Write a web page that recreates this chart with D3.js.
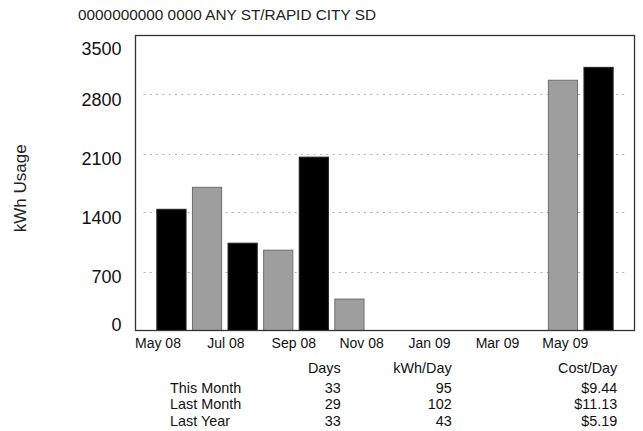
<!DOCTYPE html>
<html>
<head>
<meta charset="utf-8">
<script src="https://cdn.jsdelivr.net/npm/d3@7"></script>
<style>
  html, body { margin: 0; padding: 0; background: #fff; }
  svg { display: block; font-family: "Liberation Sans", Arial, sans-serif; }
</style>
</head>
<body>
<svg id="chart" width="643" height="431"></svg>
<script>
const title = "0000000000 0000 ANY ST/RAPID CITY SD";
const yAxisTitle = "kWh Usage";
const months = ["May 08","Jun 08","Jul 08","Aug 08","Sep 08","Oct 08","Nov 08","Dec 08","Jan 09","Feb 09","Mar 09","Apr 09","May 09"];
const usage = [1438, 1699, 1036, 953, 2057, 373, null, null, null, null, null, 2969, 3122];
const xTickLabels = ["May 08","Jul 08","Sep 08","Nov 08","Jan 09","Mar 09","May 09"];
const xTickIndex = [0, 2, 4, 6, 8, 10, 12];
const yTicks = [0, 700, 1400, 2100, 2800, 3500];
const tableHeaders = ["Days", "kWh/Day", "Cost/Day"];
const tableRows = ["This Month", "Last Month", "Last Year"];
const daysCol = ["33", "29", "33"];
const kwhCol = ["95", "102", "43"];
const costCol = ["$9.44", "$11.13", "$5.19"];

const svg = d3.select("#chart");
const L = 135.5, R = 634.5, T = 35.5, B = 330.5;

const y = d3.scaleLinear().domain([0, 3500]).range([B, T]);
const x = d3.scaleBand().domain(months).range([L, R]).paddingInner(0.18).paddingOuter(0.6);
const xLab = d3.scaleLinear().domain([0, 12]).range([158, 565.3]);

// title
svg.append("text").attr("x", 78).attr("y", 19.5).attr("font-size", 15).attr("fill", "#222")
  .attr("textLength", 298).attr("lengthAdjust", "spacingAndGlyphs").text(title);

// gridlines
svg.append("g").selectAll("line").data(yTicks.filter(v => v > 0 && v < 3500)).join("line")
  .attr("x1", L + 8).attr("x2", R - 6)
  .attr("y1", d => Math.round(y(d)) + 0.5).attr("y2", d => Math.round(y(d)) + 0.5)
  .attr("stroke", "#b0b0b0").attr("stroke-width", 1).attr("stroke-dasharray", "2,4.3");

// bars
svg.append("g").selectAll("rect").data(months.map((m, i) => ({m, v: usage[i], i})).filter(d => d.v != null)).join("rect")
  .attr("x", d => x(d.m)).attr("width", x.bandwidth())
  .attr("y", d => y(d.v)).attr("height", d => y(0) - y(d.v))
  .attr("fill", d => d.i % 2 === 0 ? "#000" : "#9e9e9e")
  .attr("stroke", d => d.i % 2 === 0 ? "#222" : "#6e6e6e").attr("stroke-width", 1);

// frame
svg.append("rect").attr("x", L).attr("y", T).attr("width", R - L).attr("height", B - T)
  .attr("fill", "none").attr("stroke", "#333").attr("stroke-width", 1.3);

// y tick labels
svg.append("g").selectAll("text").data(yTicks).join("text")
  .attr("x", 121.5)
  .attr("y", d => Math.min(Math.max(y(d) + 5, 49), 325) + 6.3)
  .attr("text-anchor", "end").attr("font-size", 18).attr("fill", "#111")
  .text(d => d);

// y title
svg.append("text").attr("transform", "translate(25.7,188.3) rotate(-90)")
  .attr("text-anchor", "middle").attr("font-size", 17).attr("fill", "#222").text(yAxisTitle);

// x tick labels
svg.append("g").selectAll("text").data(xTickLabels).join("text")
  .attr("x", (d, i) => xLab(xTickIndex[i])).attr("y", 347.7)
  .attr("text-anchor", "middle").attr("font-size", 14).attr("fill", "#111")
  .text(d => d);

// table
const colX = [340.7, 451.7, 617.3];
const rowY = [392.7, 409.3, 426];
const tg = svg.append("g").attr("font-size", 14.4).attr("fill", "#111");
tg.selectAll("text.h").data(tableHeaders).join("text").attr("class", "h")
  .attr("x", (d, i) => colX[i]).attr("y", 373.3).attr("text-anchor", "end").text(d => d);
tg.selectAll("text.r").data(tableRows).join("text").attr("class", "r")
  .attr("x", 170).attr("y", (d, i) => rowY[i]).text(d => d);
[daysCol, kwhCol, costCol].forEach((col, c) => {
  tg.selectAll("text.c" + c).data(col).join("text").attr("class", "c" + c)
    .attr("x", colX[c]).attr("y", (d, i) => rowY[i]).attr("text-anchor", "end").text(d => d);
});
</script>
</body>
</html>
